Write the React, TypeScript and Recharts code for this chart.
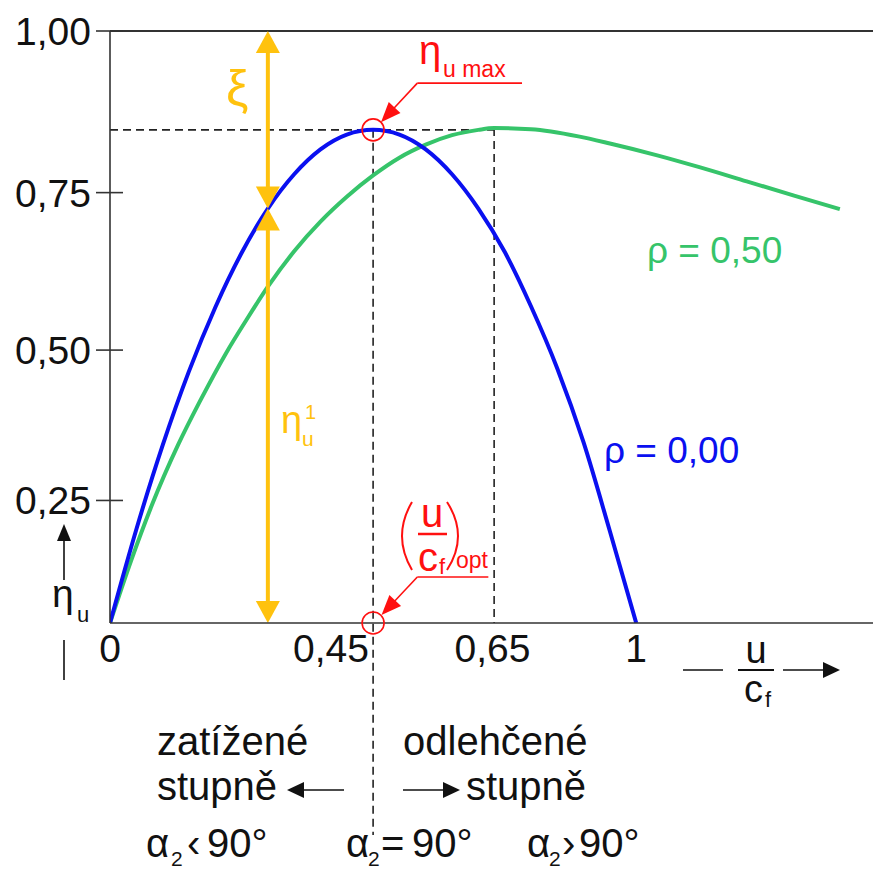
import React from 'react';
import { LineChart, Line, XAxis, YAxis, ReferenceLine, ReferenceDot } from 'recharts';

const FONT = '"Liberation Sans", Arial, Helvetica, sans-serif';
const BLUE = '#0a10f0';
const GREEN = '#36c46a';
const YELLOW = '#ffc20e';
const RED = '#ff1010';
const INK = '#111';

// efficiency curve, reaction rho = 0.00 (x in diagram units)
const u0 = [0, 0.05, 0.1, 0.15, 0.2, 0.25, 0.3, 0.35, 0.4, 0.45, 0.5, 0.55, 0.6, 0.65, 0.7, 0.75, 0.8, 0.85, 0.9, 0.95, 1];
const eta0 = [0, 0.158, 0.3, 0.425, 0.533, 0.625, 0.7, 0.758, 0.8, 0.825, 0.833, 0.825, 0.8, 0.758, 0.7, 0.627, 0.535, 0.43, 0.305, 0.155, 0];

// efficiency curve, reaction rho = 0.50
const u50 = [0, 0.04, 0.08, 0.13, 0.17, 0.22, 0.26, 0.3, 0.35, 0.4, 0.45, 0.5, 0.55, 0.6, 0.65, 0.7, 0.73, 0.8, 0.89, 0.95, 1.04, 1.12, 1.21, 1.3, 1.387];
const eta50 = [0, 0.105, 0.2, 0.302, 0.373, 0.455, 0.513, 0.568, 0.628, 0.678, 0.72, 0.756, 0.786, 0.808, 0.824, 0.833, 0.836, 0.834, 0.822, 0.81, 0.79, 0.77, 0.746, 0.722, 0.699];

// axis ticks as placed in the (schematic) picture
const xTickPos = [0, 0.42, 0.727, 1];
const xTickLabels = ['0', '0,45', '0,65', '1'];
const yTickPos = [0.207, 0.461, 0.727, 1];
const yTickLabels = ['0,25', '0,50', '0,75', '1,00'];

// key points
const uOpt = 0.5;
const etaMax = 0.833;
const uOpt50 = 0.73;
const etaMax50 = 0.836;
const uArrow = 0.3;
const etaArrow = 0.7;

const rho0Data = u0.map((x, i) => ({ x, y: eta0[i] }));
const rho50Data = u50.map((x, i) => ({ x, y: eta50[i] }));

function arrowShape(color: string, width: number, head: number, half: number, atStart: boolean, atEnd: boolean) {
  return (p: any) => {
    const { x1, y1, x2, y2 } = p;
    const dx = x2 - x1;
    const dy = y2 - y1;
    const len = Math.hypot(dx, dy) || 1;
    const ux = dx / len;
    const uy = dy / len;
    const px = -uy;
    const py = ux;
    const tri = (tx: number, ty: number, s: number) => {
      const bx = tx - s * ux * head;
      const by = ty - s * uy * head;
      return `${tx},${ty} ${bx + px * half},${by + py * half} ${bx - px * half},${by - py * half}`;
    };
    const sx = atStart ? x1 + ux * (head - 1) : x1;
    const sy = atStart ? y1 + uy * (head - 1) : y1;
    const ex = atEnd ? x2 - ux * (head - 1) : x2;
    const ey = atEnd ? y2 - uy * (head - 1) : y2;
    return (
      <g>
        <line x1={sx} y1={sy} x2={ex} y2={ey} stroke={color} strokeWidth={width} />
        {atStart && <polygon points={tri(x1, y1, -1)} fill={color} />}
        {atEnd && <polygon points={tri(x2, y2, 1)} fill={color} />}
      </g>
    );
  };
}

const YTick = (props: any) => {
  const { x, y, index } = props;
  return (
    <g>
      <line x1={x - 14} x2={x + 13} y1={y} y2={y} stroke="#333" strokeWidth={1.6} />
      <text x={x - 19} y={y} dy="0.36em" textAnchor="end" fontSize={39} fontFamily={FONT} fill={INK}>
        {yTickLabels[index]}
      </text>
    </g>
  );
};

const XTick = (props: any) => {
  const { x, y, index } = props;
  return (
    <text x={x} y={y + 39} textAnchor="middle" fontSize={39} fontFamily={FONT} fill={INK}>
      {xTickLabels[index]}
    </text>
  );
};

const Annotations = () => (
  <svg width={873} height={871} style={{ position: 'absolute', left: 0, top: 0, pointerEvents: 'none' }}>
    <g fontFamily={FONT}>
      {/* xi and eta_u^1 */}
      <text x={226} y={105} fontSize={50} fill={YELLOW}>ξ</text>
      <text x={281} y={433} fontSize={38} fill={YELLOW}>η</text>
      <text x={305} y={419} fontSize={20} fill={YELLOW}>1</text>
      <text x={302} y={446} fontSize={21} fill={YELLOW}>u</text>

      {/* eta_u max */}
      <text x={419} y={64} fontSize={40} fill={RED}>η</text>
      <text x={443} y={77} fontSize={23} fill={RED}>u max</text>

      {/* (u/c_f)_opt */}
      <path d="M 412 502 Q 392 536 412 570" stroke={RED} strokeWidth={2} fill="none" />
      <path d="M 447 502 Q 469 536 447 570" stroke={RED} strokeWidth={2} fill="none" />
      <text x={432} y={527} textAnchor="middle" fontSize={40} fill={RED}>u</text>
      <line x1={418} x2={447} y1={534} y2={534} stroke={RED} strokeWidth={2.5} />
      <text x={418} y={571} fontSize={40} fill={RED}>c</text>
      <text x={439} y={574} fontSize={22} fill={RED}>f</text>
      <text x={456} y={568} fontSize={23} fill={RED}>opt</text>

      {/* rho labels */}
      <text x={647} y={263} fontSize={37} fill={GREEN}>ρ = 0,50</text>
      <text x={604} y={463} fontSize={37} fill={BLUE}>ρ = 0,00</text>

      {/* y axis label */}
      <line x1={64} x2={64} y1={580} y2={538} stroke={INK} strokeWidth={1.6} />
      <polygon points="64,524 57,541 71,541" fill={INK} />
      <text x={52} y={607} fontSize={39} fill={INK}>η</text>
      <text x={77} y={622} fontSize={22} fill={INK}>u</text>
      <line x1={64} x2={64} y1={640} y2={680} stroke={INK} strokeWidth={1.6} />

      {/* x axis label */}
      <line x1={683} x2={723} y1={670} y2={670} stroke={INK} strokeWidth={1.6} />
      <text x={756} y={663} textAnchor="middle" fontSize={38} fill={INK}>u</text>
      <line x1={738} x2={774} y1={670} y2={670} stroke={INK} strokeWidth={2.2} />
      <text x={744} y={702} fontSize={38} fill={INK}>c</text>
      <text x={765} y={707} fontSize={22} fill={INK}>f</text>
      <line x1={783} x2={826} y1={670} y2={670} stroke={INK} strokeWidth={1.6} />
      <polygon points="840,670 823,662 823,678" fill={INK} />

      {/* stage types */}
      <text x={157} y={755} fontSize={40} fill={INK}>zatížené</text>
      <text x={157} y={800} fontSize={40} fill={INK}>stupně</text>
      <line x1={300} x2={344} y1={790} y2={790} stroke={INK} strokeWidth={1.6} />
      <polygon points="287,790 304,782 304,798" fill={INK} />
      <text x={403} y={755} fontSize={40} fill={INK}>odlehčené</text>
      <line x1={403} x2={446} y1={790} y2={790} stroke={INK} strokeWidth={1.6} />
      <polygon points="460,790 443,782 443,798" fill={INK} />
      <text x={466} y={800} fontSize={40} fill={INK}>stupně</text>

      {/* blade angle */}
      <text x={146} y={857} fontSize={40} fill={INK}>α</text>
      <text x={171} y={866} fontSize={21} fill={INK}>2</text>
      <text x={187} y={857} fontSize={40} fill={INK}>‹</text>
      <text x={207} y={857} fontSize={40} fill={INK}>90°</text>

      <text x={346} y={857} fontSize={40} fill={INK}>α</text>
      <text x={368} y={866} fontSize={21} fill={INK}>2</text>
      <text x={381} y={857} fontSize={40} fill={INK}>=</text>
      <text x={412} y={857} fontSize={40} fill={INK}>90°</text>

      <text x={527} y={857} fontSize={40} fill={INK}>α</text>
      <text x={549} y={866} fontSize={21} fill={INK}>2</text>
      <text x={562} y={857} fontSize={40} fill={INK}>›</text>
      <text x={579} y={857} fontSize={40} fill={INK}>90°</text>
    </g>
  </svg>
);

export default function App() {
  return (
    <div style={{ position: 'absolute', left: 0, top: 0, width: 873, height: 871, background: '#fff' }}>
      <LineChart width={873} height={871} margin={{ top: 31, right: 0, left: 0, bottom: 208 }}>
        <XAxis
          type="number"
          dataKey="x"
          domain={[0, 1.45]}
          allowDataOverflow
          ticks={xTickPos}
          interval={0}
          tick={<XTick />}
          tickLine={false}
          tickSize={0}
          tickMargin={0}
          height={40}
          axisLine={{ stroke: '#333', strokeWidth: 1.6 }}
        />
        <YAxis
          type="number"
          domain={[0, 1]}
          allowDataOverflow
          ticks={yTickPos}
          interval={0}
          tick={<YTick />}
          tickLine={false}
          tickSize={0}
          tickMargin={0}
          width={110}
          axisLine={{ stroke: '#333', strokeWidth: 1.6 }}
        />
        <ReferenceLine y={1} stroke="#333" strokeWidth={1.8} />

        {/* guide lines */}
        <ReferenceLine
          segment={[{ x: 0, y: etaMax }, { x: uOpt50, y: etaMax }]}
          stroke="#222"
          strokeWidth={1.6}
          strokeDasharray="8 5"
        />
        <ReferenceLine
          segment={[{ x: uOpt, y: etaMax }, { x: uOpt, y: -0.358 }]}
          stroke="#222"
          strokeWidth={1.6}
          strokeDasharray="8 5"
          ifOverflow="visible"
        />
        <ReferenceLine
          segment={[{ x: uOpt50, y: etaMax50 }, { x: uOpt50, y: 0 }]}
          stroke="#222"
          strokeWidth={1.6}
          strokeDasharray="8 5"
        />

        <Line data={rho50Data} dataKey="y" type="monotone" stroke={GREEN} strokeWidth={4} dot={false} isAnimationActive={false} />
        <Line data={rho0Data} dataKey="y" type="monotone" stroke={BLUE} strokeWidth={4} dot={false} isAnimationActive={false} />

        {/* xi and eta_u^1 arrows */}
        <ReferenceLine
          segment={[{ x: uArrow, y: 1 }, { x: uArrow, y: etaArrow }]}
          shape={arrowShape(YELLOW, 4, 22, 12, true, true)}
        />
        <ReferenceLine
          segment={[{ x: uArrow, y: etaArrow }, { x: uArrow, y: 0 }]}
          shape={arrowShape(YELLOW, 4, 22, 12, true, true)}
        />

        {/* red markers and leaders */}
        <ReferenceDot x={uOpt} y={etaMax} r={11} fill="none" stroke={RED} strokeWidth={1.6} />
        <ReferenceDot x={uOpt} y={0} r={11} fill="none" stroke={RED} strokeWidth={1.6} ifOverflow="visible" />
        <ReferenceLine segment={[{ x: 0.783, y: 0.912 }, { x: 0.584, y: 0.912 }]} stroke={RED} strokeWidth={1.6} />
        <ReferenceLine
          segment={[{ x: 0.584, y: 0.912 }, { x: 0.515, y: 0.846 }]}
          shape={arrowShape(RED, 1.6, 20, 8, false, true)}
        />
        <ReferenceLine segment={[{ x: 0.719, y: 0.0777 }, { x: 0.584, y: 0.0777 }]} stroke={RED} strokeWidth={1.6} />
        <ReferenceLine
          segment={[{ x: 0.584, y: 0.0777 }, { x: 0.516, y: 0.0135 }]}
          shape={arrowShape(RED, 1.6, 20, 8, false, true)}
        />
      </LineChart>
      <Annotations />
    </div>
  );
}
